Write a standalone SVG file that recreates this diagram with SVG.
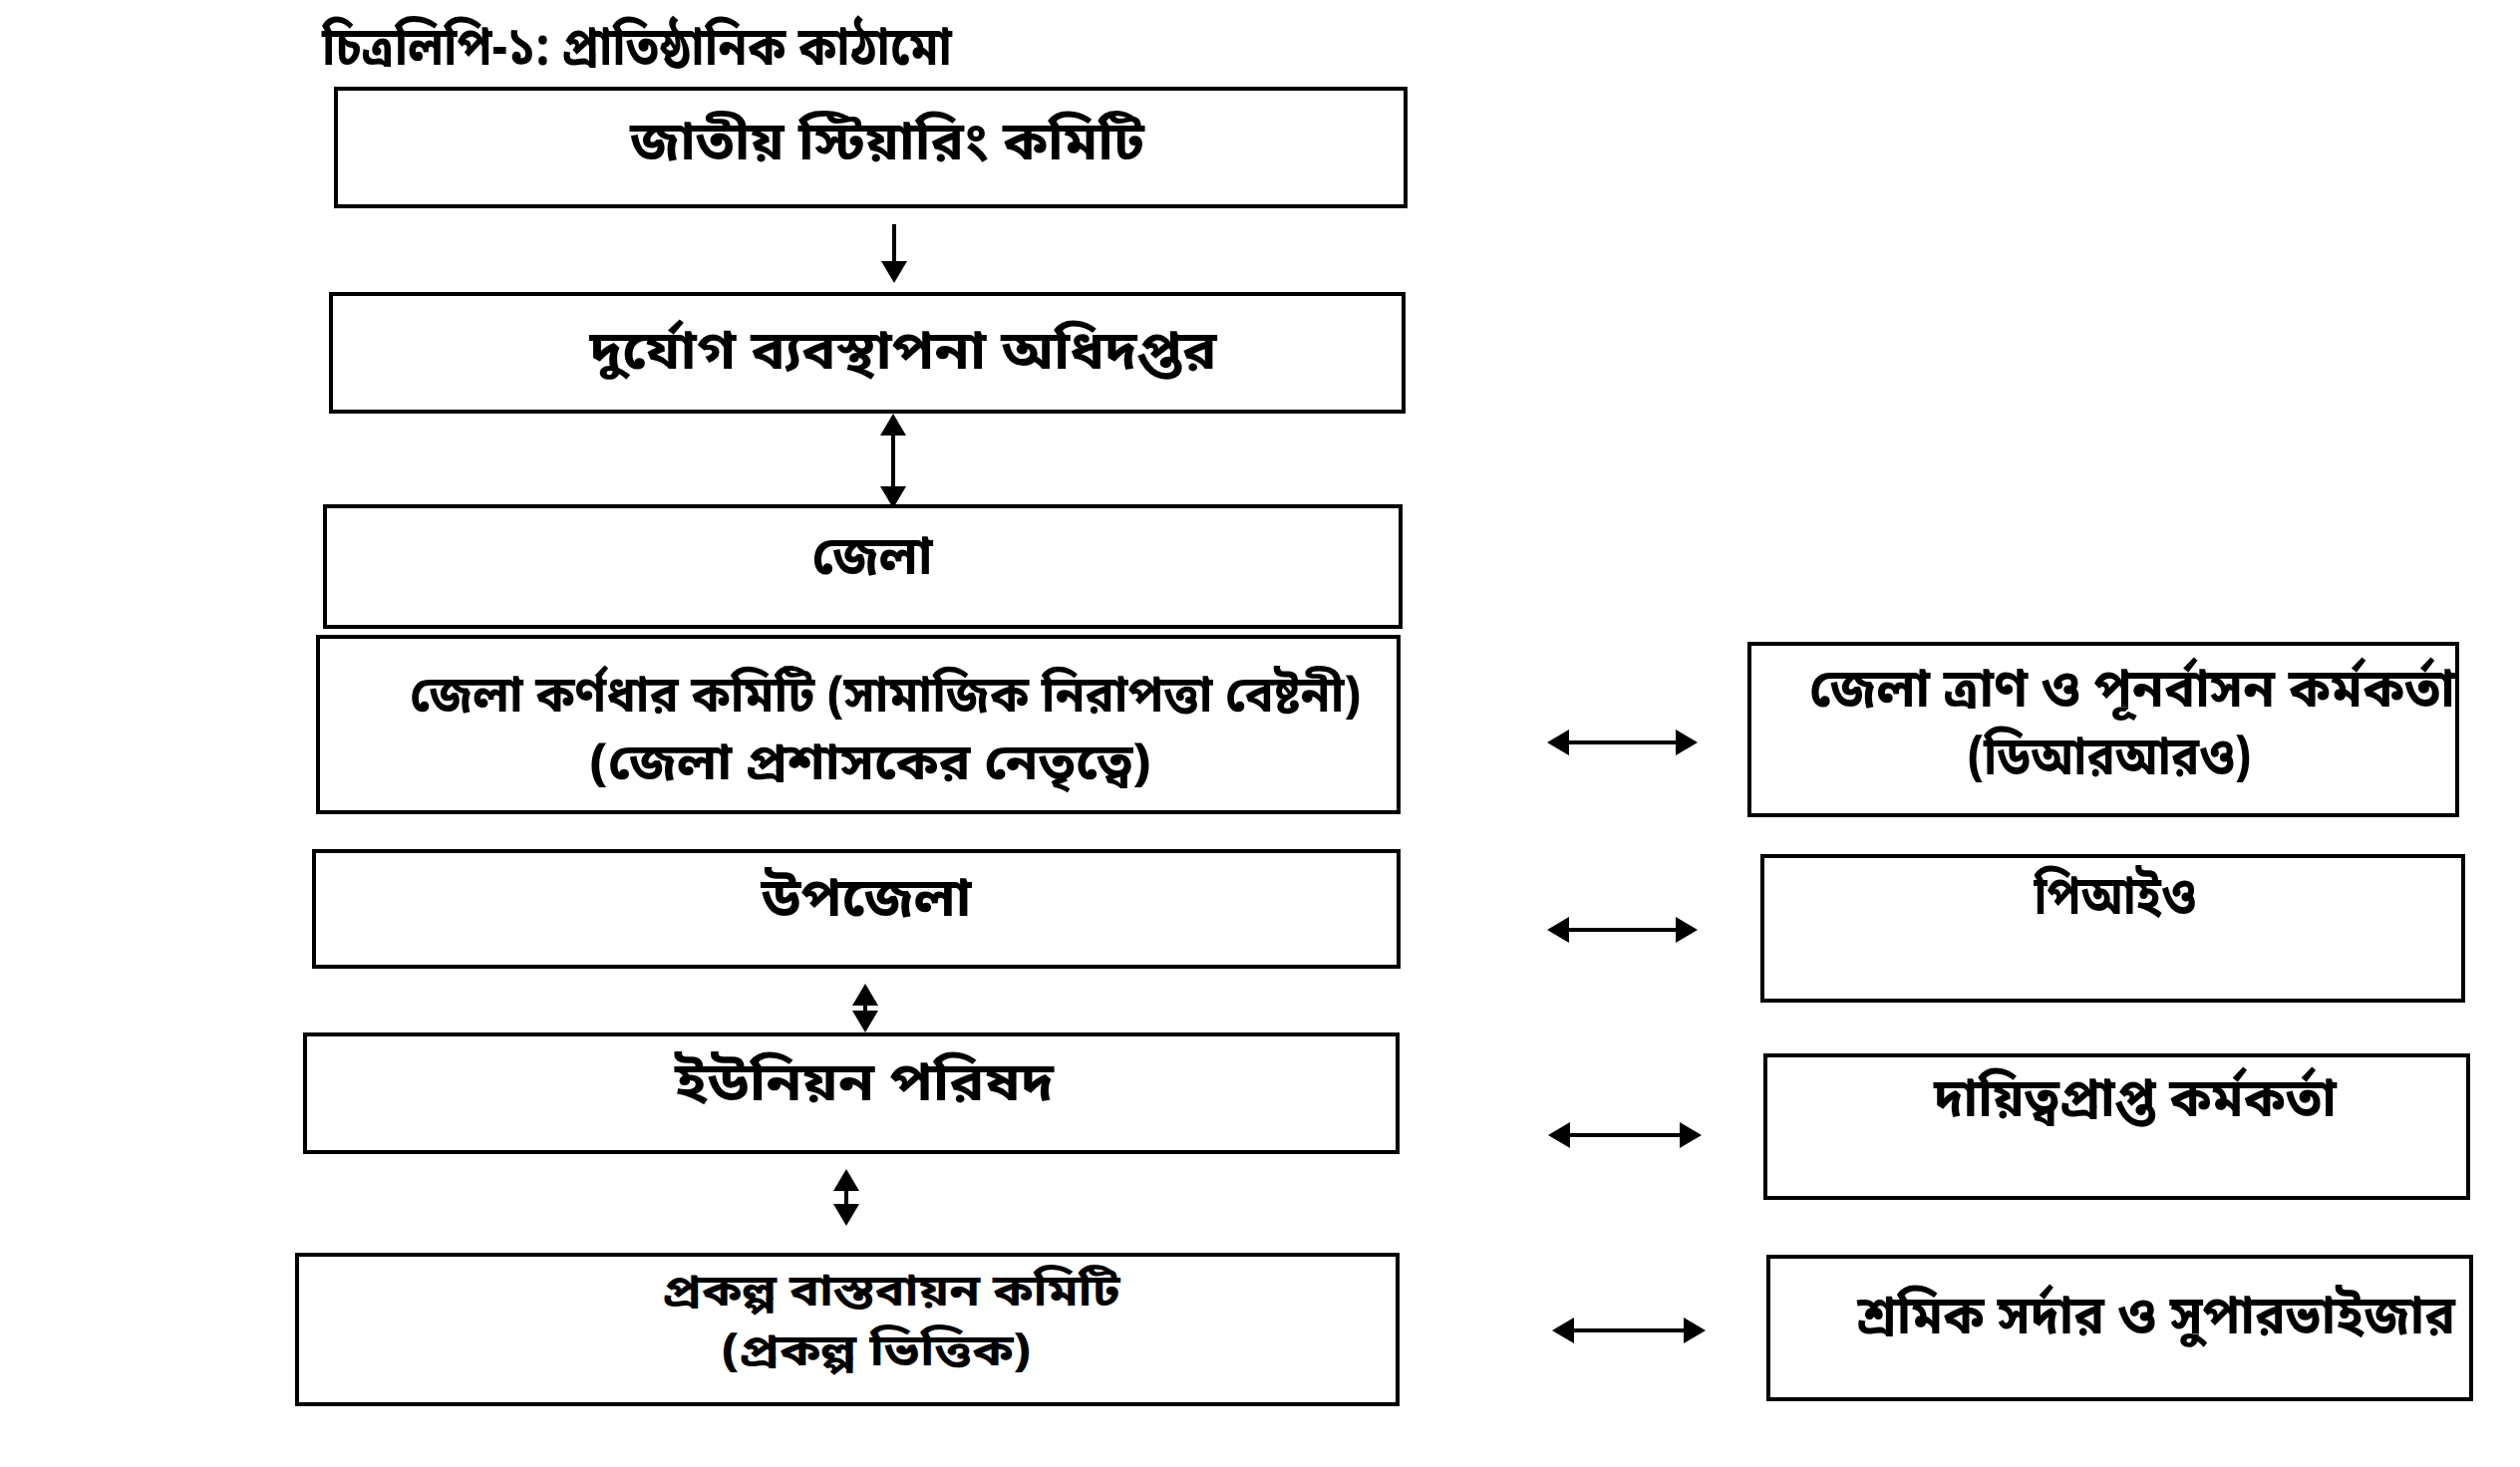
<svg xmlns="http://www.w3.org/2000/svg" width="2528" height="1472" viewBox="0 0 2528 1472">
<defs>
<style>
.box{fill:#fff;stroke:#000;stroke-width:4}
.lbl{font-family:"Noto Sans Bengali","Lohit Bengali","Noto Sans",sans-serif;font-weight:bold;font-size:54px;fill:#000;text-anchor:middle}
.sm{font-size:50px}
.xs{font-size:44px}
.con{stroke:#000;stroke-width:4;fill:none}
</style>
<marker id="ah" viewBox="0 0 22 26" markerUnits="userSpaceOnUse" markerWidth="22" markerHeight="26" refX="8" refY="13" orient="auto-start-reverse">
<path d="M0,0 L22,13 L0,26 Z" fill="#000"/>
</marker>
</defs>
<rect width="2528" height="1472" fill="#fff"/>
<text id="title" class="lbl" x="639" y="65" textLength="632" lengthAdjust="spacingAndGlyphs">চিত্রলিপি-১: প্রাতিষ্ঠানিক কাঠামো</text>
<g id="n1"><rect class="box" x="337" y="89" width="1073" height="118"/>
<text class="lbl" x="890" y="160" textLength="516" lengthAdjust="spacingAndGlyphs">জাতীয় স্টিয়ারিং কমিটি</text></g>
<g id="n2"><rect class="box" x="332" y="295" width="1076" height="118"/>
<text class="lbl" x="906" y="370" textLength="629" lengthAdjust="spacingAndGlyphs">দুর্যোগ ব্যবস্থাপনা অধিদপ্তর</text></g>
<g id="n3"><rect class="box" x="326" y="508" width="1079" height="121"/>
<text class="lbl" x="875" y="576" textLength="121" lengthAdjust="spacingAndGlyphs">জেলা</text></g>
<g id="n4"><rect class="box" x="319" y="639" width="1084" height="176"/>
<text class="lbl sm" x="888" y="714" textLength="954" lengthAdjust="spacingAndGlyphs">জেলা কর্ণধার কমিটি (সামাজিক নিরাপত্তা বেষ্টনী)</text>
<text class="lbl sm" x="873" y="782" textLength="563" lengthAdjust="spacingAndGlyphs">(জেলা প্রশাসকের নেতৃত্বে)</text></g>
<g id="n5"><rect class="box" x="315" y="854" width="1088" height="116"/>
<text class="lbl" x="869" y="919" textLength="211" lengthAdjust="spacingAndGlyphs">উপজেলা</text></g>
<g id="n6"><rect class="box" x="306" y="1038" width="1096" height="118"/>
<text class="lbl" x="867" y="1104" textLength="380" lengthAdjust="spacingAndGlyphs">ইউনিয়ন পরিষদ</text></g>
<g id="n7"><rect class="box" x="298" y="1259" width="1104" height="150"/>
<text class="lbl xs" x="894" y="1310" textLength="459" lengthAdjust="spacingAndGlyphs">প্রকল্প বাস্তবায়ন কমিটি</text>
<text class="lbl xs" x="879" y="1370" textLength="310" lengthAdjust="spacingAndGlyphs">(প্রকল্প ভিত্তিক)</text></g>
<g id="r1"><rect class="box" x="1755" y="646" width="710" height="172"/>
<text class="lbl" x="2139" y="709" textLength="648" lengthAdjust="spacingAndGlyphs">জেলা ত্রাণ ও  পূনর্বাসন কর্মকর্তা</text>
<text class="lbl" x="2116" y="777" textLength="284" lengthAdjust="spacingAndGlyphs">(ডিআরআরও)</text></g>
<g id="r2"><rect class="box" x="1768" y="859" width="703" height="145"/>
<text class="lbl" x="2122" y="917" textLength="163" lengthAdjust="spacingAndGlyphs">পিআইও</text></g>
<g id="r3"><rect class="box" x="1771" y="1059" width="705" height="143"/>
<text class="lbl" x="2142" y="1120" textLength="404" lengthAdjust="spacingAndGlyphs">দায়িত্বপ্রাপ্ত কর্মকর্তা</text></g>
<g id="r4"><rect class="box" x="1774" y="1261" width="705" height="143"/>
<text class="lbl" x="2163" y="1338" textLength="600" lengthAdjust="spacingAndGlyphs">শ্রমিক সর্দার ও সুপারভাইজার</text></g>
<g id="connectors">
<line class="con" x1="897" y1="225" x2="897" y2="270" marker-end="url(#ah)"/>
<line class="con" x1="896" y1="429" x2="896" y2="496" marker-start="url(#ah)" marker-end="url(#ah)"/>
<line class="con" x1="868" y1="1001" x2="868" y2="1022" marker-start="url(#ah)" marker-end="url(#ah)"/>
<line class="con" x1="849" y1="1187" x2="849" y2="1216" marker-start="url(#ah)" marker-end="url(#ah)"/>
<line class="con" x1="1566" y1="745" x2="1689" y2="745" marker-start="url(#ah)" marker-end="url(#ah)"/>
<line class="con" x1="1566" y1="933" x2="1689" y2="933" marker-start="url(#ah)" marker-end="url(#ah)"/>
<line class="con" x1="1567" y1="1139" x2="1693" y2="1139" marker-start="url(#ah)" marker-end="url(#ah)"/>
<line class="con" x1="1571" y1="1335" x2="1697" y2="1335" marker-start="url(#ah)" marker-end="url(#ah)"/>
</g>
</svg>
